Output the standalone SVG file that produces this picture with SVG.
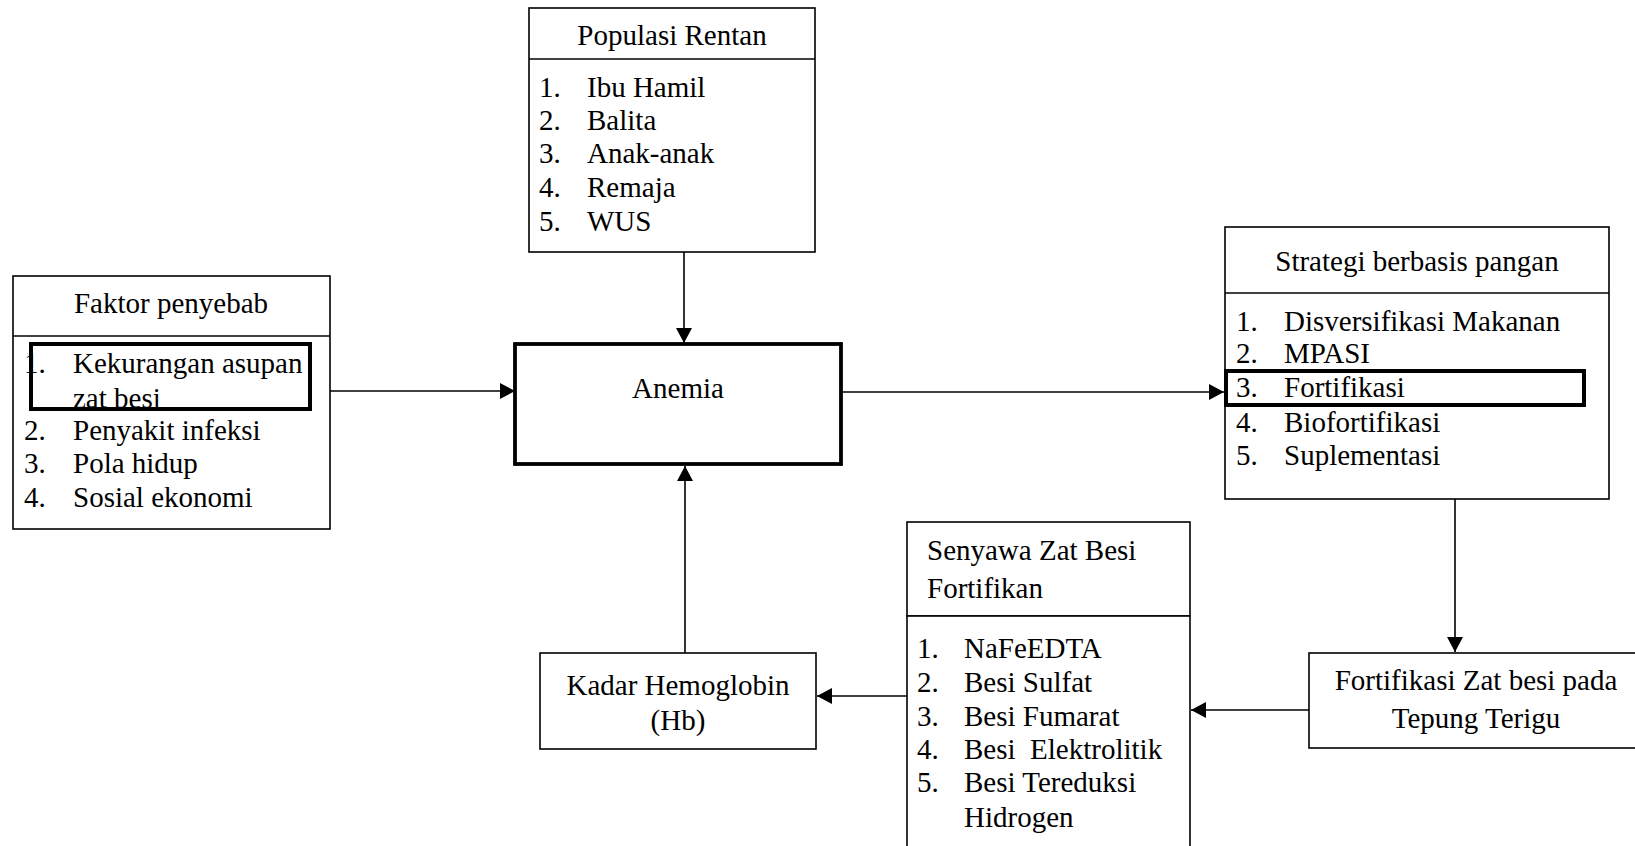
<svg xmlns="http://www.w3.org/2000/svg" width="1635" height="846" viewBox="0 0 1635 846">
  <style>
    text { font-family: "Liberation Serif", "Times New Roman", serif; font-size: 29px; fill: #000; }
    .c { text-anchor: middle; }
    .box { fill: #fff; stroke: #000; stroke-width: 1.6; }
    .thick { fill: none; stroke: #000; stroke-width: 4; }
    .div { stroke: #000; stroke-width: 1.6; }
    .conn { stroke: #000; stroke-width: 1.6; fill: none; marker-end: url(#arr); }
  </style>
  <defs>
    <marker id="arr" markerUnits="userSpaceOnUse" markerWidth="16" markerHeight="16" refX="15" refY="8" orient="auto">
      <path d="M0,0 L15,8 L0,16 z" fill="#000"/>
    </marker>
  </defs>
  <rect width="1635" height="846" fill="#fff"/>

  <g id="connectors">
    <line class="conn" x1="330" y1="391" x2="515" y2="391"/>
    <line class="conn" x1="684" y1="252" x2="684" y2="343"/>
    <line class="conn" x1="685" y1="653" x2="685" y2="466"/>
    <line class="conn" x1="841" y1="392" x2="1224" y2="392"/>
    <line class="conn" x1="1455" y1="499" x2="1455" y2="652"/>
    <line class="conn" x1="1309" y1="710" x2="1191" y2="710"/>
    <line class="conn" x1="907" y1="696" x2="817" y2="696"/>
  </g>

  <g id="populasi">
    <rect class="box" x="529" y="8" width="286" height="244"/>
    <line class="div" x1="529" y1="59" x2="815" y2="59"/>
    <text class="c" x="672" y="45">Populasi Rentan</text>
    <text x="539" y="97">1.</text><text x="587" y="97">Ibu Hamil</text>
    <text x="539" y="130">2.</text><text x="587" y="130">Balita</text>
    <text x="539" y="163">3.</text><text x="587" y="163">Anak-anak</text>
    <text x="539" y="197">4.</text><text x="587" y="197">Remaja</text>
    <text x="539" y="231">5.</text><text x="587" y="231">WUS</text>
  </g>

  <g id="faktor">
    <rect class="box" x="13" y="276" width="317" height="253"/>
    <line class="div" x1="13" y1="336" x2="330" y2="336"/>
    <text class="c" x="171" y="313">Faktor penyebab</text>
    <text x="24" y="373">1.</text><text x="73" y="373">Kekurangan asupan</text>
    <text x="73" y="408">zat besi</text>
    <text x="24" y="440">2.</text><text x="73" y="440">Penyakit infeksi</text>
    <text x="24" y="473">3.</text><text x="73" y="473">Pola hidup</text>
    <text x="24" y="507">4.</text><text x="73" y="507">Sosial ekonomi</text>
    <rect class="thick" x="31" y="344" width="279" height="65"/>
  </g>

  <g id="anemia">
    <rect x="515" y="344" width="326" height="120" fill="#fff" stroke="#000" stroke-width="3.8"/>
    <text class="c" x="678" y="398">Anemia</text>
  </g>

  <g id="strategi">
    <rect class="box" x="1225" y="227" width="384" height="272"/>
    <line class="div" x1="1225" y1="293" x2="1609" y2="293"/>
    <text class="c" x="1417" y="271">Strategi berbasis pangan</text>
    <text x="1236" y="331">1.</text><text x="1284" y="331">Disversifikasi Makanan</text>
    <text x="1236" y="363">2.</text><text x="1284" y="363">MPASI</text>
    <text x="1236" y="397">3.</text><text x="1284" y="397">Fortifikasi</text>
    <text x="1236" y="432">4.</text><text x="1284" y="432">Biofortifikasi</text>
    <text x="1236" y="465">5.</text><text x="1284" y="465">Suplementasi</text>
    <rect class="thick" x="1226" y="371" width="358" height="34"/>
  </g>

  <g id="fortifikasi-terigu">
    <rect class="box" x="1309" y="653" width="340" height="95"/>
    <text class="c" x="1476" y="690">Fortifikasi Zat besi pada</text>
    <text class="c" x="1476" y="728">Tepung Terigu</text>
  </g>

  <g id="senyawa">
    <rect class="box" x="907" y="522" width="283" height="94"/>
    <rect class="box" x="907" y="616" width="283" height="240"/>
    <text x="927" y="560">Senyawa Zat Besi</text>
    <text x="927" y="598">Fortifikan</text>
    <text x="917" y="658">1.</text><text x="964" y="658">NaFeEDTA</text>
    <text x="917" y="692">2.</text><text x="964" y="692">Besi Sulfat</text>
    <text x="917" y="726">3.</text><text x="964" y="726">Besi Fumarat</text>
    <text x="917" y="759">4.</text><text x="964" y="759" xml:space="preserve">Besi  Elektrolitik</text>
    <text x="917" y="792">5.</text><text x="964" y="792">Besi Tereduksi</text>
    <text x="964" y="827">Hidrogen</text>
  </g>

  <g id="kadar">
    <rect class="box" x="540" y="653" width="276" height="96"/>
    <text class="c" x="678" y="695">Kadar Hemoglobin</text>
    <text class="c" x="678" y="730">(Hb)</text>
  </g>
</svg>
